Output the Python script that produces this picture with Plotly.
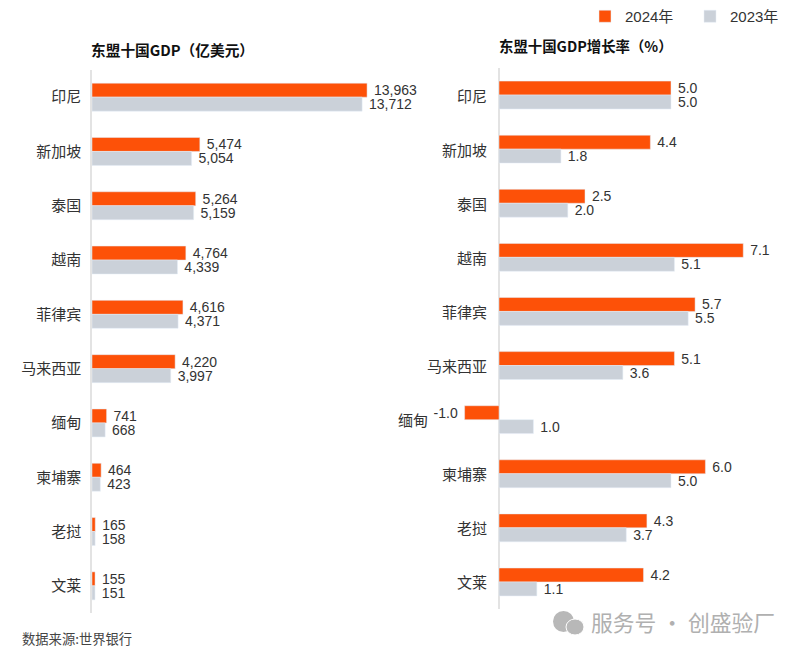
import plotly.graph_objects as go

countries = ['印尼', '新加坡', '泰国', '越南', '菲律宾', '马来西亚', '缅甸', '柬埔寨', '老挝', '文莱']
gdp_2024 = [13963, 5474, 5264, 4764, 4616, 4220, 741, 464, 165, 155]
gdp_2023 = [13712, 5054, 5159, 4339, 4371, 3997, 668, 423, 158, 151]
growth_2024 = [5.0, 4.4, 2.5, 7.1, 5.7, 5.1, -1.0, 6.0, 4.3, 4.2]
growth_2023 = [5.0, 1.8, 2.0, 5.1, 5.5, 3.6, 1.0, 5.0, 3.7, 1.1]

ORANGE = '#fd5108'
GREY = '#cbd1d9'
TEXT = '#333333'
W, H = 800, 656
NUM_FONT = dict(family='Liberation Sans, Arial', size=14, color=TEXT)
CJK = 'Noto Sans CJK SC'


def px_x(p):
    return p / W


def px_y(p):
    # pixel from the top -> paper coordinate
    return 1 - p / H


fig = go.Figure()

for name, vals, color in [('2024年', gdp_2024, ORANGE), ('2023年', gdp_2023, GREY)]:
    fig.add_trace(go.Bar(
        y=countries, x=vals, name=name, orientation='h',
        marker_color=color, xaxis='x', yaxis='y',
        text=[f' {v:,}' for v in vals], textposition='outside',
        textfont=NUM_FONT, cliponaxis=False, constraintext='none',
    ))

for name, vals, color in [('2024年', growth_2024, ORANGE), ('2023年', growth_2023, GREY)]:
    fig.add_trace(go.Bar(
        y=countries, x=vals, name=name, orientation='h',
        marker_color=color, xaxis='x2', yaxis='y2', showlegend=False,
        text=[f' {v:.1f}' if v > 0 else f'{v:.1f} ' for v in vals], textposition='outside',
        textfont=NUM_FONT, cliponaxis=False, constraintext='none',
    ))

annotations = [
    dict(text='<b>东盟十国GDP（亿美元）</b>', x=px_x(88.5), y=px_y(49), xref='paper', yref='paper',
         xanchor='left', yanchor='middle', showarrow=False, font=dict(family=CJK, size=14.7, color='#111111')),
    dict(text='<b>东盟十国GDP增长率（%）</b>', x=px_x(497), y=px_y(46), xref='paper', yref='paper',
         xanchor='left', yanchor='middle', showarrow=False, font=dict(family=CJK, size=14.4, color='#111111')),
    dict(text='数据来源:世界银行', x=px_x(20), y=px_y(638), xref='paper', yref='paper',
         xanchor='left', yanchor='middle', showarrow=False, font=dict(family=CJK, size=13.3, color='#444444')),
    dict(text='服务号 · 创盛验厂', x=px_x(589), y=px_y(621), xref='paper', yref='paper',
         xanchor='left', yanchor='middle', showarrow=False, font=dict(family=CJK, size=21.8, color='#b0b0b0')),
]

# right panel labels sit by the zero line, except where the bar goes negative
for c, v in zip(countries, growth_2024):
    annotations.append(dict(
        text=c, x=min(v, 0), y=c, xref='x2', yref='y2', xanchor='right', yanchor='middle',
        xshift=-35 if v < 0 else -10, showarrow=False,
        font=dict(family=CJK, size=15, color=TEXT),
    ))

fig.update_layout(
    width=W, height=H, margin=dict(l=0, r=0, t=0, b=0),
    paper_bgcolor='white', plot_bgcolor='white',
    barmode='group', bargap=0.485, bargroupgap=0,
    xaxis=dict(domain=[px_x(92), px_x(420)], range=[0, 328 / 0.0197], visible=False),
    yaxis=dict(domain=[px_y(613), px_y(70)], autorange='reversed',
               showline=True, linecolor='#e3e3e3', linewidth=1.5, ticks='', ticklabelstandoff=6,
               tickfont=dict(family=CJK, size=15, color=TEXT), anchor='x'),
    xaxis2=dict(domain=[px_x(440), px_x(790)], range=[-59 / 34.4, 291 / 34.4], showgrid=False,
                showticklabels=False, ticks='', zeroline=True, zerolinecolor='#e3e3e3',
                zerolinewidth=1.5, anchor='y2'),
    yaxis2=dict(domain=[px_y(609), px_y(68)], autorange='reversed', showticklabels=False,
                ticks='', showgrid=False, anchor='x2'),
    legend=dict(orientation='h', x=px_x(585), y=px_y(0), xanchor='left', yanchor='top',
                entrywidth=60, entrywidthmode='pixels',
                font=dict(family='Liberation Sans, ' + CJK, size=15, color=TEXT),
                itemclick=False, itemdoubleclick=False),
    showlegend=True,
    annotations=annotations,
    shapes=[
        # wechat mark next to the watermark
        dict(type='circle', xref='paper', yref='paper', x0=px_x(553), x1=px_x(574), y0=px_y(632), y1=px_y(611),
             fillcolor='#b8b8b8', line_width=0),
        dict(type='circle', xref='paper', yref='paper', x0=px_x(566), x1=px_x(584), y0=px_y(635), y1=px_y(619),
             fillcolor='#b8b8b8', line=dict(color='white', width=1)),
    ],
)

# the browser's default body margin would push the chart 8px off
fig.write_html("out.html", config=dict(displayModeBar=False),
               post_script="document.body.style.margin='0';")
